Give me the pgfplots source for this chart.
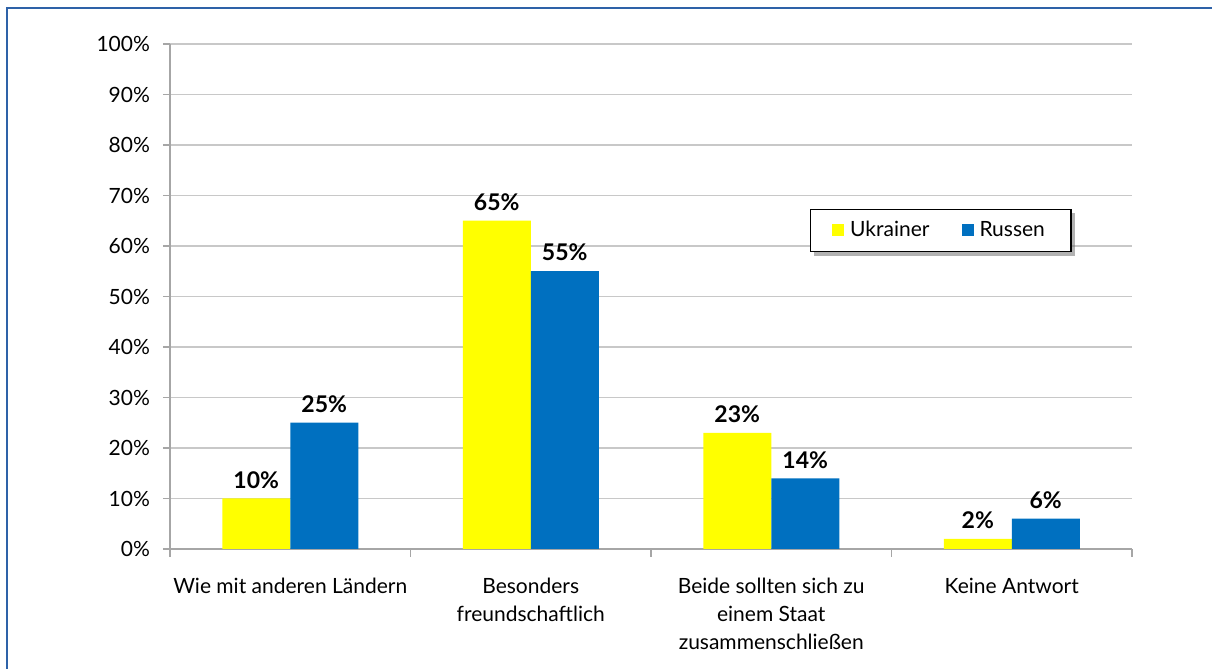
\documentclass[border=0pt]{standalone}
\usepackage{fontspec}
\setmainfont{Lato}
\usepackage{pgfplots}
\pgfplotsset{compat=1.18}
\usetikzlibrary{shadows}
\definecolor{ukr}{RGB}{255,255,0}
\definecolor{rus}{RGB}{0,112,192}
\definecolor{framec}{RGB}{46,98,168}
\definecolor{gridc}{RGB}{200,200,200}
\definecolor{axisc}{RGB}{166,166,166}
\begin{document}
\begin{tikzpicture}[font=\fontsize{10.5}{14}\selectfont]
\path[use as bounding box] (0,0) rectangle (606pt,334.5pt);
\draw[framec, line width=0.8pt] (3.5pt,0) -- (3.5pt,330.5pt) -- (606pt,330.5pt);
\begin{axis}[
  at={(85pt,60pt)}, anchor=south west,
  scale only axis, width=481pt, height=252.5pt,
  ymin=0, ymax=100, xmin=-0.5, xmax=3.5,
  ybar=0pt, bar width=34pt,
  /pgf/number format/assume math mode=true,
  axis x line*=bottom, axis y line*=left,
  axis line style={axisc, line width=0.6pt, -},
  ytick={0,10,...,100},
  yticklabel={\pgfmathprintnumber{\tick}\%},
  yticklabel style={xshift=-3pt},
  ymajorgrids, grid style={gridc, line width=0.6pt},
  tick align=outside,
  major tick length=3.5pt,
  tick style={axisc, line width=0.6pt},
  xtick={0,1,2,3},
  xticklabels={{Wie mit anderen Ländern},{Besonders\\freundschaftlich},{Beide sollten sich zu\\einem Staat\\zusammenschließen},{Keine Antwort}},
  xticklabel style={align=center, yshift=-7.5pt},
  x tick style={draw=none},
  minor xtick={-0.5,0.5,1.5,2.5,3.5},
  minor x tick style={draw=axisc, line width=0.6pt},
  minor tick length=4pt,
  nodes near coords={\pgfmathprintnumber{\pgfplotspointmeta}\%},
  every node near coord/.append style={font=\fontsize{11.5}{14}\selectfont\bfseries, black, yshift=1.5pt},
  legend columns=2,
  legend style={at={(0.801,0.631)}, anchor=center, draw=black, line width=0.6pt, fill=white,
    drop shadow={shadow xshift=2pt, shadow yshift=-2pt, fill=black!60},
    inner xsep=11pt, inner ysep=4pt,
    /tikz/every odd column/.append style={column sep=1pt},
    /tikz/every even column/.append style={column sep=14pt}},
  legend image code/.code={\begin{scope}[#1]\pgfpathrectangle{\pgfpoint{0pt}{-3pt}}{\pgfpoint{6pt}{6pt}}\pgfusepath{fill}\end{scope}},
]
\addplot[fill=ukr, draw=none] coordinates {(0,10) (1,65) (2,23) (3,2)};
\addplot[fill=rus, draw=none] coordinates {(0,25) (1,55) (2,14) (3,6)};
\legend{Ukrainer, Russen}
\end{axis}
\end{tikzpicture}
\end{document}
